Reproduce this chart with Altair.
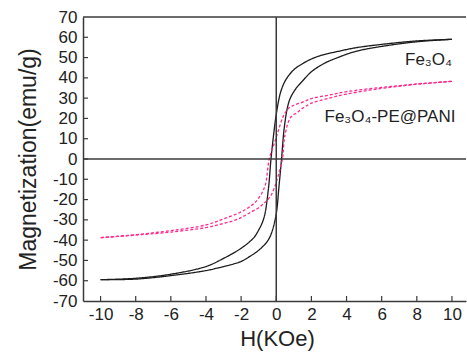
import altair as alt
import pandas as pd

# Fe3O4 loop (black, solid)
fe_asc_h = [-10, -8, -6, -4, -3, -2, -1.5, -1, -0.5, -0.25, 0, 0.15, 0.3, 0.45, 0.64, 0.8, 1.1, 1.5, 2, 2.7, 3.5, 4.5, 6, 8, 10]
fe_asc_m = [-59.5, -59.2, -57.5, -55, -53, -50.5, -48, -45, -40.5, -36, -27, -14, 0, 15, 25.5, 30, 34.5, 38.5, 43, 47, 50, 53, 55.5, 57.8, 59]
fe_desc_h = [10, 8, 6, 4.5, 3.5, 2.6, 2, 1.5, 1, 0.54, 0.25, 0, -0.15, -0.3, -0.45, -0.7, -1, -1.3, -2, -3, -4, -6, -8, -10]
fe_desc_m = [59, 58.2, 56.5, 54.8, 53, 51.2, 49.3, 47, 44, 39, 33, 22, 12, 0, -15, -29, -35, -39, -44, -49, -53, -56.8, -58.8, -59.5]

# Fe3O4-PE@PANI loop (magenta, dashed)
pani_asc_h = [-10, -8, -6, -4, -3, -2.3, -1.9, -1.5, -1, -0.6, -0.3, -0.1, 0.15, 0.35, 0.5, 0.82, 1.2, 1.5, 2, 3, 4, 6, 8, 10]
pani_asc_m = [-38.8, -37.5, -36, -33.8, -31.8, -30, -28.4, -26.5, -24, -21, -18, -14, -7, 0, 12, 20.5, 23, 25, 27.5, 30, 32, 34.8, 36.8, 38.3]
pani_desc_h = [10, 8, 6, 4, 3, 2, 1.5, 1, 0.7, 0.4, 0.12, -0.1, -0.4, -0.6, -0.8, -1.16, -1.5, -2.1, -3, -4, -6, -8, -10]
pani_desc_m = [38.3, 37, 35.3, 33.2, 31.5, 29.8, 28, 26.5, 25, 21, 14, 8, 0, -12, -16.5, -21, -23.5, -26.5, -29.5, -32.5, -35.3, -37.3, -38.8]

series_names = ["Fe3O4", "Fe3O4-PE@PANI"]
x_ticks = [-10, -8, -6, -4, -2, 0, 2, 4, 6, 8, 10]
y_ticks = [-70, -60, -50, -40, -30, -20, -10, 0, 10, 20, 30, 40, 50, 60, 70]
y_inner_ticks = [-60, -50, -40, -30, -20, -10, 0, 10, 20, 30, 40, 50, 60]

label_text = ["Fe₃O₄", "Fe₃O₄-PE@PANI"]
label_h = [10.0, 10.2]
label_m = [46.3, 18.2]

rows = []
for s, b, hs, ms in [
    (series_names[0], "fe_asc", fe_asc_h, fe_asc_m),
    (series_names[0], "fe_desc", fe_desc_h, fe_desc_m),
    (series_names[1], "pani_asc", pani_asc_h, pani_asc_m),
    (series_names[1], "pani_desc", pani_desc_h, pani_desc_m),
]:
    for i, (h, m) in enumerate(zip(hs, ms)):
        rows.append({"series": s, "branch": b, "idx": i, "H": h, "M": m})
df = pd.DataFrame(rows)

W, HH = 383, 284
FONT = "Liberation Sans"
xscale = alt.Scale(domain=[-11, 10.8], nice=False, zero=False)
yscale = alt.Scale(domain=[-70, 70], nice=False, zero=False)

xaxis = alt.Axis(
    title="H(KOe)", values=x_ticks, labelExpr="'' + datum.value",
    labelOverlap=False, labelBound=False, labelFlush=False, tickSize=0,
    labelPadding=5, titleFontSize=22, titleBaseline="alphabetic", titleY=44, titleX=194)
yaxis = alt.Axis(
    title="Magnetization(emu/g)", values=y_ticks, labelExpr="'' + datum.value",
    labelOverlap=False, labelBound=False, labelFlush=False, tickSize=0,
    labelPadding=6, titleFontSize=23, titleBaseline="alphabetic", titleX=-48, titleY=HH / 2)

X = alt.X("H:Q", scale=xscale, axis=xaxis)
Y = alt.Y("M:Q", scale=yscale, axis=yaxis)

lines = alt.Chart(df).mark_line(interpolate="catmull-rom", strokeWidth=1.3, clip=True).encode(
    x=X, y=Y,
    color=alt.Color("series:N", scale=alt.Scale(domain=series_names, range=["#1c1c1c", "#ff2a8f"]), legend=None),
    strokeDash=alt.StrokeDash("series:N", scale=alt.Scale(domain=series_names, range=[[1, 0], [3, 2]]), legend=None),
    detail="branch:N",
    order="idx:Q",
)

zero_h = alt.Chart(pd.DataFrame({"M": [0]})).mark_rule(color="#3a3a3a", strokeWidth=1.5).encode(y=Y)
zero_v = alt.Chart(pd.DataFrame({"H": [0]})).mark_rule(color="#3a3a3a", strokeWidth=1.5).encode(x=X)
top_border = alt.Chart(pd.DataFrame({"a": [0]})).mark_rule(color="#3a3a3a", strokeWidth=1.5).encode(
    x=alt.value(0), x2=alt.value(W), y=alt.value(0))

xt = alt.Chart(pd.DataFrame({"H": x_ticks})).mark_rule(color="#3a3a3a", strokeWidth=1.2).encode(
    x=X, y=alt.value(HH - 5), y2=alt.value(HH))
yt = alt.Chart(pd.DataFrame({"M": y_inner_ticks})).mark_rule(color="#3a3a3a", strokeWidth=1.2).encode(
    y=Y, x=alt.value(0), x2=alt.value(5))

labels = alt.Chart(pd.DataFrame({"H": label_h, "M": label_m, "t": label_text})).mark_text(
    align="right", baseline="alphabetic", fontSize=17, font=FONT, color="#222222").encode(
    x=X, y=Y, text="t:N")

chart = alt.layer(lines, zero_h, zero_v, top_border, xt, yt, labels).properties(
    width=W, height=HH,
    autosize=alt.AutoSizeParams(type="none"),
    padding={"left": 83, "top": 17, "right": 1, "bottom": 52},
).configure_view(stroke=None).configure_axis(
    grid=False, domainColor="#3a3a3a", domainWidth=1.5, tickSize=0,
    labelFont=FONT, labelFontSize=17, labelColor="#222222",
    labelOverlap=False,
    titleFont=FONT, titleColor="#222222", titleFontWeight="normal",
)

chart.save("out.html", embed_options={"renderer": "svg", "actions": False})
